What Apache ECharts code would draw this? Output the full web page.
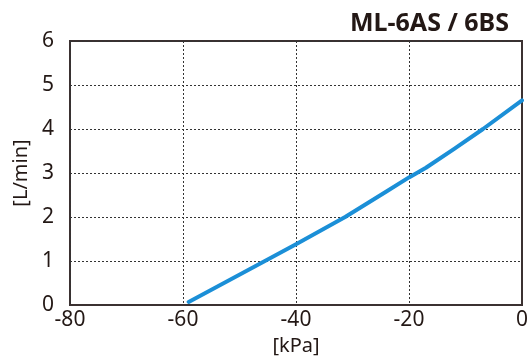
<!DOCTYPE html>
<html><head><meta charset="utf-8">
<script src="https://cdn.jsdelivr.net/npm/echarts@6/dist/echarts.min.js"></script>
<style>html,body{margin:0;padding:0;background:#fff}#c{width:531px;height:360px}</style>
</head><body><div id="c"></div>
<script>
var title = "ML-6AS / 6BS";
var xName = "[kPa]";
var yName = "[L/min]";
var pressure = [-59, -45.5, -40, -31.3, -24, -20, -17, -12, -6.9, 0];
var flow = [0.07, 1.0, 1.38, 2.0, 2.58, 2.9, 3.12, 3.55, 4.0, 4.65];
var txt = '#231815';
var data = pressure.map(function(p, i){ return [p, flow[i]]; });
var chart = echarts.init(document.getElementById('c'));
chart.setOption({
  animation: false,
  title: { text: title, right: 17, top: 6, textStyle: { fontFamily: 'Noto Sans', fontSize: 25, fontWeight: 'bold', color: txt } },
  grid: { left: 70, right: 9, top: 41, bottom: 55, show: true, borderColor: '#3b3131', borderWidth: 2, containLabel: false, outerBoundsMode: 'none' },
  xAxis: {
    type: 'value', min: -80, max: 0, interval: 20,
    name: xName, nameLocation: 'middle', nameGap: 31,
    nameTextStyle: { fontFamily: 'Noto Sans', fontSize: 20, color: txt },
    axisLine: { show: true, lineStyle: { color: '#3b3131', width: 2 } },
    axisTick: { show: false },
    axisLabel: { fontFamily: 'Noto Sans', fontSize: 21, color: txt, margin: 5 },
    splitLine: { show: true, lineStyle: { type: [2, 2], color: '#333', width: 1 } }
  },
  yAxis: {
    type: 'value', min: 0, max: 6, interval: 1,
    name: yName, nameLocation: 'middle', nameGap: 38, nameRotate: 90,
    nameTextStyle: { fontFamily: 'Noto Sans', fontSize: 20, color: txt },
    axisLine: { show: true, lineStyle: { color: '#3b3131', width: 2 } },
    axisTick: { show: false },
    axisLabel: { fontFamily: 'Noto Sans', fontSize: 21, color: txt, margin: 16 },
    splitLine: { show: true, lineStyle: { type: [2, 2], color: '#333', width: 1 } }
  },
  series: [{
    type: 'line', data: data, smooth: false, symbol: 'none',
    lineStyle: { color: '#1b8fd7', width: 4, join: 'round', cap: 'round' }
  }]
});
</script></body></html>
